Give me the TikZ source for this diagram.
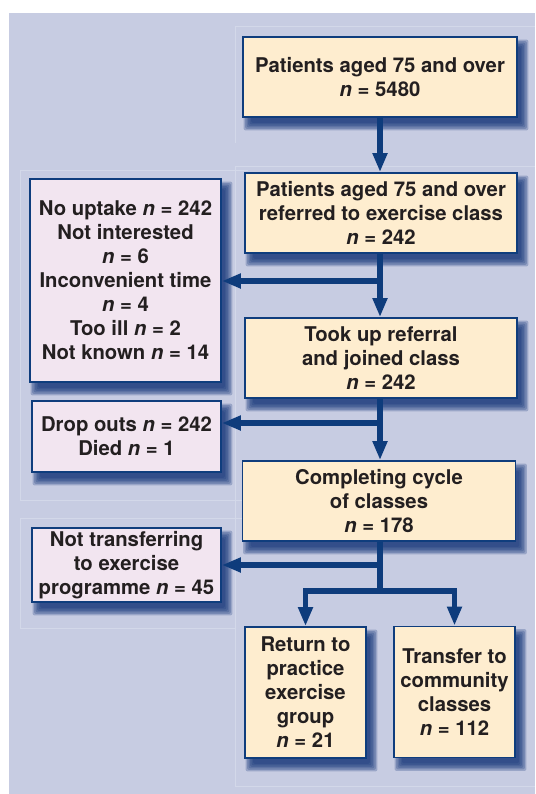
\documentclass[tikz,border=0pt]{standalone}
\usepackage{fontspec}
\setmainfont{TeX Gyre Heros}
\usetikzlibrary{arrows.meta,calc}
\definecolor{bgc}{HTML}{C7CCE2}
\definecolor{faintc}{HTML}{D3D8E9}
\definecolor{boxy}{HTML}{FEEDCF}
\definecolor{boxp}{HTML}{F2E5F0}
\definecolor{bordc}{HTML}{0F3D7D}
\definecolor{arrc}{HTML}{0E3C7C}
\definecolor{shadc}{HTML}{17387A}
\definecolor{txt}{HTML}{231F20}
\pgfdeclarelayer{bg}
\pgfsetlayers{bg,main}
\newcommand\myshadow[1]{%
  \foreach \r in {-3,-1.5,0,1.5,3,4.5}{%
    \fill[shadc,opacity=0.26,rounded corners=2pt]
      ($(#1.south west)+(6-\r,-8-\r)$) rectangle ($(#1.north east)+(6+\r,-8+\r)$);}}
\begin{document}
\begin{tikzpicture}[x=1pt,y=1pt,
  boxbase/.style={draw=bordc,line width=1.8pt,align=center,inner sep=0pt,
    font=\fontsize{20.3}{24}\selectfont\bfseries,text=txt},
  mainbox/.style={boxbase,fill=boxy},
  sidebox/.style={boxbase,fill=boxp},
  flow/.style={draw=arrc,line width=5.5pt,-{Triangle[length=19pt,width=14pt]}},
  trunk/.style={draw=arrc,line width=5.5pt},
  faint/.style={draw=faintc,line width=0.8pt}]
\useasboundingbox (0,0) rectangle (535,-794);
\begin{pgfonlayer}{bg}
  \fill[bgc] (9,-13) rectangle (535,-794);
  \draw[faint] (235,-143) -- (235,-26) -- (535,-26);
  \draw[faint] (235,-786) -- (235,-166) -- (535,-166);
  \draw[faint] (235,-786) -- (535,-786);
  \draw[faint] (248,-170) -- (20,-170) -- (20,-500) -- (248,-500);
  \draw[faint] (248,-518) -- (20,-518) -- (20,-628) -- (235,-628);
\end{pgfonlayer}

\node[mainbox,minimum width=274,minimum height=80] (b1) at (380,-77)
  {Patients aged 75 and over\\\textit{n} = 5480};
\node[mainbox,minimum width=272,minimum height=80] (b2) at (381,-213)
  {Patients aged 75 and over\\referred to exercise class\\\textit{n} = 242};
\node[mainbox,minimum width=272,minimum height=80] (b3) at (381,-358)
  {Took up referral\\and joined class\\\textit{n} = 242};
\node[mainbox,minimum width=273,minimum height=80] (b4) at (379,-501)
  {Completing cycle\\of classes\\\textit{n} = 178};
\node[mainbox,minimum width=121,minimum height=131] (b5) at (305.5,-692.5)
  {Return to\\practice\\exercise\\group\\\textit{n} = 21};
\node[mainbox,minimum width=121,minimum height=131] (b6) at (454.5,-692)
  {Transfer to\\community\\classes\\\textit{n} = 112};
\node[sidebox,minimum width=191,minimum height=203] (l1) at (125.5,-280.5)
  {No uptake \textit{n} = 242\\Not interested\\\textit{n} = 6\\Inconvenient time\\\textit{n} = 4\\Too ill \textit{n} = 2\\Not known \textit{n} = 14};
\node[sidebox,minimum width=189,minimum height=71] (l2) at (126.5,-436.5)
  {Drop outs \textit{n} = 242\\Died \textit{n} = 1};
\node[sidebox,minimum width=189,minimum height=74] (l3) at (126.5,-565)
  {Not transferring\\to exercise\\programme \textit{n} = 45};

\begin{pgfonlayer}{bg}
  \myshadow{b1}\myshadow{b2}\myshadow{b3}\myshadow{b4}\myshadow{b5}\myshadow{b6}
  \myshadow{l1}\myshadow{l2}\myshadow{l3}
\end{pgfonlayer}

\coordinate (t1) at (380,-117);
\coordinate (j1) at (380,-281);
\coordinate (j2) at (380,-423);
\coordinate (j3) at (380,-565);
\coordinate (j4) at (380,-591);

\draw[flow] (t1) -- (t1 |- b2.north);
\draw[flow] (j1 |- b2.south) -- (j1 |- b3.north);
\draw[flow] (j1) -- (j1 -| l1.east);
\draw[flow] (j2 |- b3.south) -- (j2 |- b4.north);
\draw[flow] (j2) -- (j2 -| l2.east);
\draw[trunk] (j3 |- b4.south) -- (j4);
\draw[flow] (j3) -- (j3 -| l3.east);
\draw[flow] (j4) -| (b5.north);
\draw[flow] (j4) -| (b6.north);
\end{tikzpicture}
\end{document}
